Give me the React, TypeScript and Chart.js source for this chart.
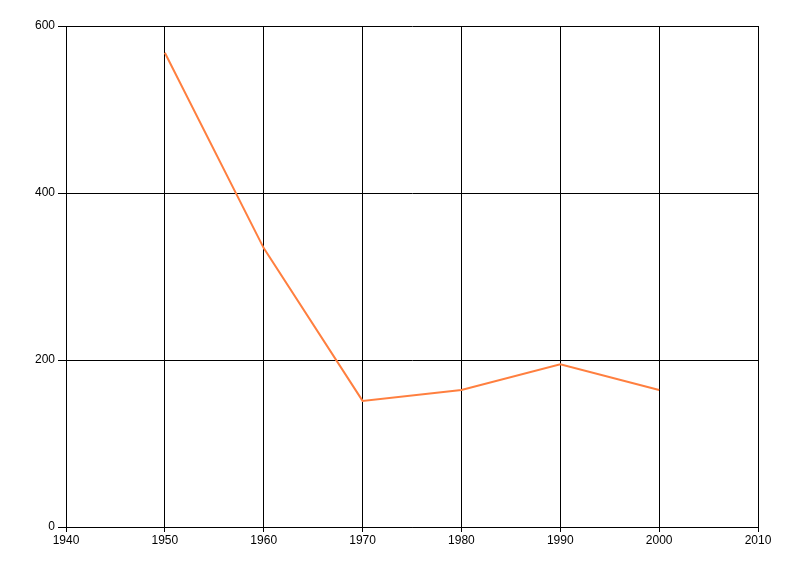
import React, { useEffect, useRef } from "react";
import { Chart, registerables } from "chart.js";

Chart.register(...registerables);

const years = [1950, 1960, 1970, 1980, 1990, 2000];
const values = [568, 334, 151, 164, 195, 164];
const xTicks = [1940, 1950, 1960, 1970, 1980, 1990, 2000, 2010];
const yTicks = [0, 200, 400, 600];

export default function App() {
  const ref = useRef<HTMLCanvasElement | null>(null);
  useEffect(() => {
    if (!ref.current) return;
    const font = { family: "'Liberation Sans Narrow', 'Liberation Sans', Arial, sans-serif", size: 12 };
    const chart = new Chart(ref.current, {
      type: "line",
      data: {
        datasets: [
          {
            data: years.map((y, i) => ({ x: y, y: values[i] })),
            borderColor: "#FF7F3F",
            borderWidth: 2,
            pointRadius: 0,
            tension: 0,
            fill: false,
          },
        ],
      },
      options: {
        animation: false,
        responsive: false,
        maintainAspectRatio: false,
        layout: { padding: { top: 26, right: 42, left: 0, bottom: 0 } },
        plugins: { legend: { display: false }, tooltip: { enabled: false } },
        scales: {
          x: {
            type: "linear",
            min: 1940,
            max: 2010,
            afterBuildTicks: (s: any) => {
              s.ticks = xTicks.map((v) => ({ value: v }));
            },
            afterFit: (s: any) => {
              s.height = 49;
            },
            ticks: { color: "#000", font, padding: 1, maxRotation: 0, autoSkip: false, callback: (v: any) => String(v) },
            grid: { color: "#000", lineWidth: 1, tickLength: 5, drawTicks: true },
            border: { color: "#000", width: 1 },
          },
          y: {
            type: "linear",
            min: 0,
            max: 600,
            afterBuildTicks: (s: any) => {
              s.ticks = yTicks.map((v) => ({ value: v }));
            },
            afterFit: (s: any) => {
              s.width = 66;
            },
            ticks: { color: "#000", font, padding: 3, callback: (v: any) => String(v) },
            grid: { color: "#000", lineWidth: 1, tickLength: 8, drawTicks: true },
            border: { color: "#000", width: 1 },
          },
        },
      },
    });
    return () => chart.destroy();
  }, []);
  return (
    <div style={{ position: "fixed", left: 0, top: 0, width: 800, height: 576, background: "#fff" }}>
      <canvas ref={ref} width={800} height={576} style={{ width: 800, height: 576 }} />
    </div>
  );
}
